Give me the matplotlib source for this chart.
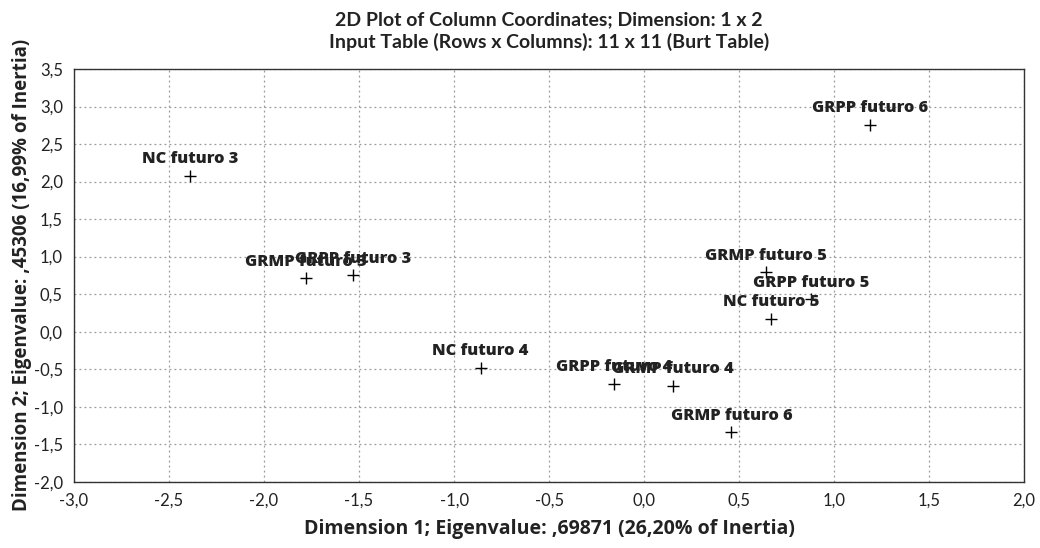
import matplotlib
matplotlib.use('Agg')
import matplotlib.pyplot as plt
from matplotlib.ticker import MultipleLocator, FuncFormatter

plt.rcParams['font.family'] = ['Lato', 'DejaVu Sans']

labels = ['NC futuro 3', 'GRMP futuro 3', 'GRPP futuro 3', 'NC futuro 4',
          'GRPP futuro 4', 'GRMP futuro 4', 'GRMP futuro 6', 'GRMP futuro 5',
          'NC futuro 5', 'GRPP futuro 5', 'GRPP futuro 6']
dim1 = [-2.39, -1.78, -1.53, -0.86, -0.16, 0.15, 0.46, 0.64, 0.67, 0.88, 1.19]
dim2 = [2.08, 0.71, 0.75, -0.48, -0.70, -0.72, -1.34, 0.79, 0.17, 0.43, 2.76]

bold_font = ['Open Sans', 'DejaVu Sans']


def comma(v, pos):
    return f'{v:.1f}'.replace('.', ',')


fig = plt.figure(figsize=(10.4, 5.48), dpi=100)
ax = fig.add_axes([0.0712, 0.121, 0.9135, 0.753])

ax.scatter(dim1, dim2, marker='+', s=70, color='black', linewidths=1.0, zorder=3)
for name, x, y in zip(labels, dim1, dim2):
    ax.annotate(name, (x, y), xytext=(0, 12), textcoords='offset points',
                ha='center', va='center', fontsize=11.8, fontweight='heavy',
                family=bold_font, color='#222222', zorder=4)

ax.set_xlim(-3.0, 2.0)
ax.set_ylim(-2.0, 3.5)
ax.xaxis.set_major_locator(MultipleLocator(0.5))
ax.yaxis.set_major_locator(MultipleLocator(0.5))
ax.xaxis.set_major_formatter(FuncFormatter(comma))
ax.yaxis.set_major_formatter(FuncFormatter(comma))
ax.tick_params(length=0, labelsize=12, pad=8, colors='#222222')
ax.grid(True, linestyle=(0, (1.5, 2.5)), color='#999999', linewidth=0.9)
for s in ax.spines.values():
    s.set_linewidth(1.0)
    s.set_color('#333333')

ax.set_xlabel('Dimension 1; Eigenvalue: ,69871 (26,20% of Inertia)',
              fontsize=14, fontweight='bold', family=bold_font,
              labelpad=7, color='#222222')
ax.set_ylabel('Dimension 2; Eigenvalue: ,45306 (16,99% of Inertia)',
              fontsize=13.5, fontweight='bold', family=bold_font,
              labelpad=1, color='#222222')
ax.set_title('2D Plot of Column Coordinates; Dimension: 1 x 2\n'
             'Input Table (Rows x Columns): 11 x 11 (Burt Table)',
             fontsize=14, fontweight='bold', pad=15, color='#222222',
             linespacing=1.3)

fig.savefig('out.png', dpi=100)
